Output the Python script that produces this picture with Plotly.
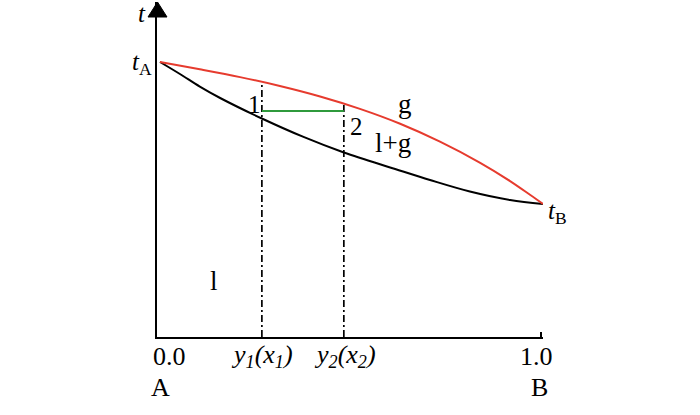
import numpy as np
import plotly.graph_objects as go

# ---- data (composition x, temperature t in arbitrary units) ----
red_x = [0.0, 0.104, 0.209, 0.313, 0.418, 0.522, 0.627, 0.731, 0.836, 0.914, 0.966, 1.0]
red_t = [100.0, 97.35, 94.5, 91.27, 87.45, 82.95, 77.53, 71.02, 63.31, 56.69, 51.71, 48.36]

black_x = [0.0, 0.052, 0.104, 0.157, 0.266, 0.373, 0.480, 0.614, 0.705, 0.809, 0.914, 1.0]
black_t = [100.0, 95.64, 91.05, 86.91, 79.45, 72.84, 67.09, 61.09, 57.09, 52.91, 49.82, 48.36]

x_marks = [0.266, 0.480]          # y1(x1), y2(x2)
tie_t = 82.2                       # horizontal tie line temperature

RED = "#e63b2e"
GREEN = "#2f9a3c"
FONT = "Liberation Serif"

# pixel helpers for text placement (layout only); plot area = px 157..543, py 2..337
def X(px):
    return (px - 160) / 383.0

def T(py):
    return (337 - py) / 2.75

def PX(px):
    return (px - 157) / 386.0

def PY(py):
    return (337 - py) / 335.0

fig = go.Figure()

# dash-dot verticals up to the red curve
for xm in x_marks:
    top = float(np.interp(xm, red_x, red_t)) + 0.3
    fig.add_trace(go.Scatter(x=[xm, xm], y=[0, top], mode="lines",
                             line=dict(color="black", width=1.7, dash="7px,3px,2px,3px"),
                             hoverinfo="skip", showlegend=False))

# tie line
fig.add_trace(go.Scatter(x=x_marks, y=[tie_t, tie_t], mode="lines",
                         line=dict(color=GREEN, width=2), hoverinfo="skip", showlegend=False))

# curves
fig.add_trace(go.Scatter(x=black_x, y=black_t, mode="lines",
                         line=dict(color="black", width=2, shape="spline", smoothing=1.0),
                         hoverinfo="skip", showlegend=False))
fig.add_trace(go.Scatter(x=red_x, y=red_t, mode="lines",
                         line=dict(color=RED, width=2, shape="spline", smoothing=1.0),
                         hoverinfo="skip", showlegend=False))

# right-end small tick on x axis
fig.add_shape(type="line", xref="x", yref="y", x0=X(541), x1=X(541), y0=0, y1=T(332),
              line=dict(color="black", width=2))

# arrow head on y axis
fig.add_shape(type="path", xref="paper", yref="paper",
              path="M {a},{b} L {c},{b} L {d},{e} Z".format(
                  a=PX(148), c=PX(167), d=PX(157.5), b=PY(17), e=PY(2)),
              fillcolor="black", line=dict(color="black", width=1))

def ann(px, py, text, size=24):
    fig.add_annotation(x=PX(px), y=PY(py), xref="paper", yref="paper", text=text,
                       showarrow=False, font=dict(family=FONT, size=size, color="black"),
                       xanchor="center", yanchor="middle")

ann(142, 13, "<i>t</i>", 25)
ann(142, 63, "<i>t</i><sub>A</sub>", 25)
ann(557, 213, "<i>t</i><sub>B</sub>", 25)
ann(254, 105, "1", 25)
ann(356, 127, "2", 25)
ann(405, 104, "g", 27)
ann(393, 143, "l+g", 27)
ann(214, 281, "l", 27)
ann(169, 356, "0.0", 26)
ann(160, 387, "A", 26)
ann(536, 356, "1.0", 26)
ann(539, 387, "B", 26)
ann(262, 356, "<i>y<sub>1</sub>(x<sub>1</sub>)</i>", 26)
ann(345, 356, "<i>y<sub>2</sub>(x<sub>2</sub>)</i>", 26)

fig.update_layout(
    width=700, height=415,
    margin=dict(l=157, r=157, t=2, b=78),
    paper_bgcolor="white", plot_bgcolor="white",
    xaxis=dict(range=[X(157), X(543)], showgrid=False, zeroline=False, showticklabels=False,
               ticks="", showline=True, linecolor="black", linewidth=2),
    yaxis=dict(range=[0, T(2)], showgrid=False, zeroline=False, showticklabels=False,
               ticks="", showline=True, linecolor="black", linewidth=2),
    showlegend=False,
)

fig.write_html("out.html", config={"displayModeBar": False},
               post_script="document.body.style.margin='0px';")
